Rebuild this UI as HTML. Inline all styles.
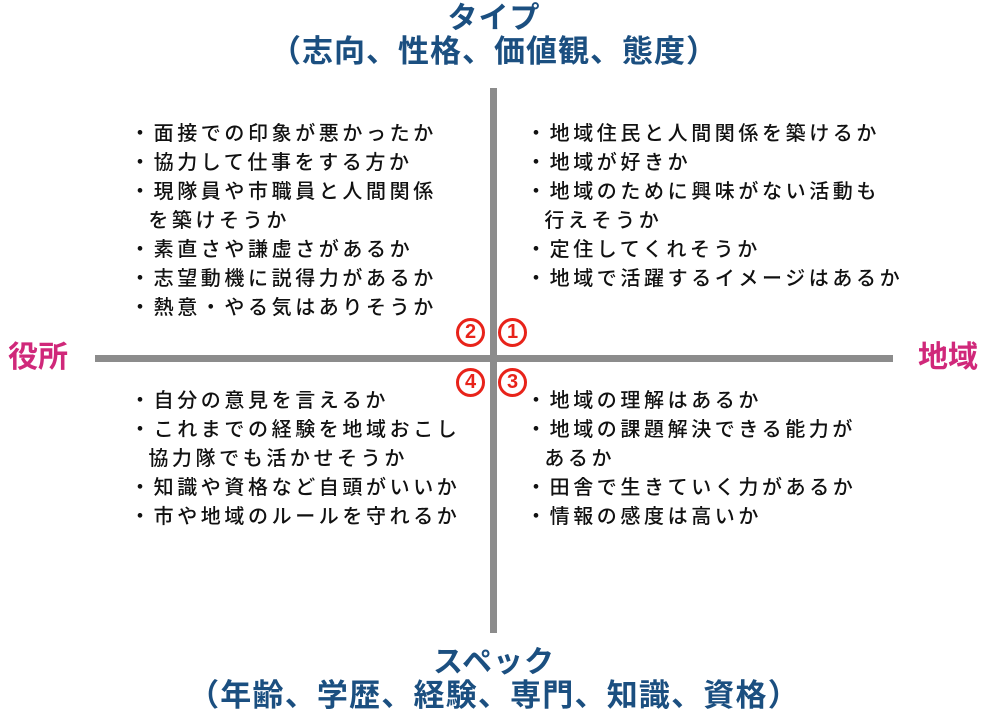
<!DOCTYPE html>
<html><head><meta charset="utf-8"><style>
body{margin:0;width:988px;height:720px;background:#fff;position:relative;overflow:hidden;font-family:"Liberation Sans","Noto Sans CJK JP",sans-serif}
.t{position:absolute;white-space:nowrap;line-height:1}
.h{color:#1b4f80;font-weight:bold;left:0;width:988px;text-align:center}
.s{font-size:20px;letter-spacing:3.6px;color:#111;font-weight:500}
.p{color:#d0287a;font-weight:bold;font-size:30px}
.c{position:absolute;width:23px;height:23px;border:3px solid #e8231a;border-radius:50%;color:#e8231a;font-weight:bold;font-size:20px;line-height:23px;text-align:center;font-family:"Liberation Sans",sans-serif}
</style></head><body>
<div style="position:absolute;left:490px;top:88px;width:7px;height:545px;background:#8c8c8c"></div>
<div style="position:absolute;left:95px;top:355px;width:798px;height:7px;background:#8c8c8c"></div>
<div class="t h" style="top:4px;font-size:30px;letter-spacing:1px">タイプ</div>
<div class="t h" style="top:36px;font-size:31px;letter-spacing:1px">（志向、性格、価値観、態度）</div>
<div class="t h" style="top:648px;font-size:30px;letter-spacing:1px">スペック</div>
<div class="t h" style="top:680px;font-size:31px;letter-spacing:1.2px">（年齢、学歴、経験、専門、知識、資格）</div>
<div class="t p" style="left:8px;top:343px">役所</div>
<div class="t p" style="left:918px;top:343px">地域</div>
<div class="c" style="left:456px;top:318px">2</div>
<div class="c" style="left:498px;top:318px">1</div>
<div class="c" style="left:456px;top:368px">4</div>
<div class="c" style="left:498px;top:368px">3</div>
<div class="t s" style="left:130px;top:120px;line-height:29px">・面接での印象が悪かったか<br>・協力して仕事をする方か<br>・現隊員や市職員と人間関係<br>&nbsp;&nbsp;を築けそうか<br>・素直さや謙虚さがあるか<br>・志望動機に説得力があるか<br>・熱意・やる気はありそうか</div>
<div class="t s" style="left:526px;top:120px;line-height:29px">・地域住民と人間関係を築けるか<br>・地域が好きか<br>・地域のために興味がない活動も<br>&nbsp;&nbsp;行えそうか<br>・定住してくれそうか<br>・地域で活躍するイメージはあるか</div>
<div class="t s" style="left:130px;top:387px;line-height:29px">・自分の意見を言えるか<br>・これまでの経験を地域おこし<br>&nbsp;&nbsp;協力隊でも活かせそうか<br>・知識や資格など自頭がいいか<br>・市や地域のルールを守れるか</div>
<div class="t s" style="left:526px;top:387px;line-height:29px">・地域の理解はあるか<br>・地域の課題解決できる能力が<br>&nbsp;&nbsp;あるか<br>・田舎で生きていく力があるか<br>・情報の感度は高いか</div>
</body></html>
